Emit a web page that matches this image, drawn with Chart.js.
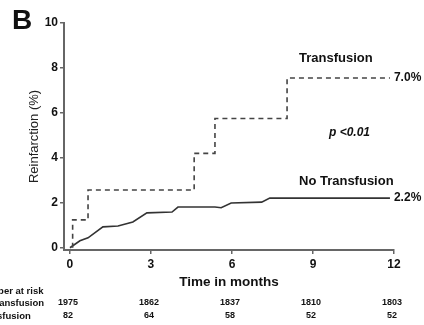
<!DOCTYPE html>
<html>
<head>
<meta charset="utf-8">
<script src="https://cdn.jsdelivr.net/npm/chart.js@4.4.1/dist/chart.umd.min.js"></script>
<style>
  html, body { margin: 0; padding: 0; background: #fff; }
  #km { display: block; }
</style>
</head>
<body>
<canvas id="km" width="424" height="325"></canvas>
<script>
// Kaplan-Meier style reinfarction curves
const xTicks = [0, 3, 6, 9, 12];
const yTicks = [0, 2, 4, 6, 8, 10];

const transfusionMonths = [0.1, 0.1, 0.67, 4.6, 5.37, 8.04, 11.85];
const transfusionRates  = [0, 1.24, 2.57, 4.2, 5.75, 7.55, 7.55];

const noTransfusionMonths = [0, 0.37, 0.67, 1.22, 1.78, 2.33, 2.85, 3.78, 4.0, 5.37, 5.6, 5.97, 7.1, 7.4, 11.85];
const noTransfusionRates  = [0, 0.31, 0.44, 0.93, 0.97, 1.15, 1.55, 1.59, 1.81, 1.81, 1.78, 1.99, 2.03, 2.21, 2.21];

const seriesNames = ['Transfusion', 'No Transfusion'];
const finalRates = ['7.0%', '2.2%'];
const pValue = 'p <0.01';

const riskTimes = [0, 3, 6, 9, 12];
const riskRowNames = ['Number at risk', 'No transfusion', 'Transfusion'];
const riskNoTransfusion = [1975, 1862, 1837, 1810, 1803];
const riskTransfusion = [82, 64, 58, 52, 52];

const FONT = '"Liberation Sans", Arial, Helvetica, sans-serif';
const AXIS = '#666';
const INK = '#111';

const toPts = (xs, ys) => xs.map((x, i) => ({ x, y: ys[i] }));

const labelsPlugin = {
  id: 'kmLabels',
  afterDraw(chart) {
    const { ctx, scales: { x, y } } = chart;
    ctx.save();
    ctx.fillStyle = INK;

    // panel letter
    ctx.font = `bold 28px ${FONT}`;
    ctx.textAlign = 'left'; ctx.textBaseline = 'alphabetic';
    ctx.fillText('B', 12, 29);

    // series names
    ctx.font = `bold 13px ${FONT}`;
    ctx.textBaseline = 'middle';
    ctx.fillText(seriesNames[0], 299, 58);
    ctx.fillText(seriesNames[1], 299, 181);

    // p value
    ctx.font = `italic bold 12px ${FONT}`;
    ctx.fillText(pValue, 329, 133);

    // end-of-curve rates
    ctx.font = `bold 12px ${FONT}`;
    const ends = [
      [transfusionMonths.at(-1), transfusionRates.at(-1)],
      [noTransfusionMonths.at(-1), noTransfusionRates.at(-1)],
    ];
    ends.forEach(([mx, my], i) => {
      ctx.fillText(finalRates[i], x.getPixelForValue(mx) + 4, y.getPixelForValue(my));
    });

    // number at risk table (row names share a left edge, partly off-canvas)
    ctx.font = `bold 9.5px ${FONT}`;
    const rowLeft = 44 - ctx.measureText(riskRowNames[1]).width;
    ctx.textAlign = 'left';
    ctx.fillText(riskRowNames[0], rowLeft, 291);
    ctx.fillText(riskRowNames[1], rowLeft, 303);
    ctx.fillText(riskRowNames[2], rowLeft, 316);
    ctx.font = `bold 9px ${FONT}`;
    ctx.textAlign = 'center';
    riskTimes.forEach((t, i) => {
      const px = x.getPixelForValue(t) - 2;
      ctx.fillText(String(riskNoTransfusion[i]), px, 303);
      ctx.fillText(String(riskTransfusion[i]), px, 316);
    });
    ctx.restore();
  }
};

new Chart(document.getElementById('km'), {
  type: 'line',
  data: {
    datasets: [
      {
        label: seriesNames[0],
        data: toPts(transfusionMonths, transfusionRates),
        stepped: true,
        borderColor: '#444', borderWidth: 1.6, borderDash: [5, 4],
        pointRadius: 0, fill: false,
      },
      {
        label: seriesNames[1],
        data: toPts(noTransfusionMonths, noTransfusionRates),
        borderColor: '#333', borderWidth: 1.6,
        pointRadius: 0, fill: false, tension: 0,
      },
    ]
  },
  options: {
    responsive: false, animation: false, devicePixelRatio: 1,
    layout: { padding: { left: 0, right: 30, top: 23, bottom: 0 } },
    plugins: { legend: { display: false }, tooltip: { enabled: false } },
    scales: {
      x: {
        type: 'linear', min: -0.22, max: 12,
        afterBuildTicks: s => { s.ticks = xTicks.map(v => ({ value: v })); },
        afterFit: s => { s.height = 75; },
        border: { display: true, color: AXIS, width: 2 },
        grid: { drawOnChartArea: false, drawTicks: true, tickLength: 4, color: AXIS, lineWidth: 1.5 },
        ticks: { color: INK, padding: 3, maxRotation: 0, font: { family: FONT, size: 12, weight: 'bold' } },
        title: { display: true, text: 'Time in months', color: INK, padding: { top: 0, bottom: 35 },
                 font: { family: FONT, size: 13.5, weight: 'bold' } },
      },
      y: {
        type: 'linear', min: -0.1, max: 10,
        afterBuildTicks: s => { s.ticks = yTicks.map(v => ({ value: v })); },
        afterFit: s => { s.width = 64; },
        border: { display: true, color: AXIS, width: 2 },
        grid: { drawOnChartArea: false, drawTicks: true, tickLength: 4, color: AXIS, lineWidth: 1.5 },
        ticks: { color: INK, padding: 2, font: { family: FONT, size: 12, weight: 'bold' } },
        title: { display: true, text: 'Reinfarction (%)', color: '#222', padding: { top: 27, bottom: 0 },
                 font: { family: FONT, size: 13 } },
      },
    },
  },
  plugins: [labelsPlugin],
});
</script>
</body>
</html>
